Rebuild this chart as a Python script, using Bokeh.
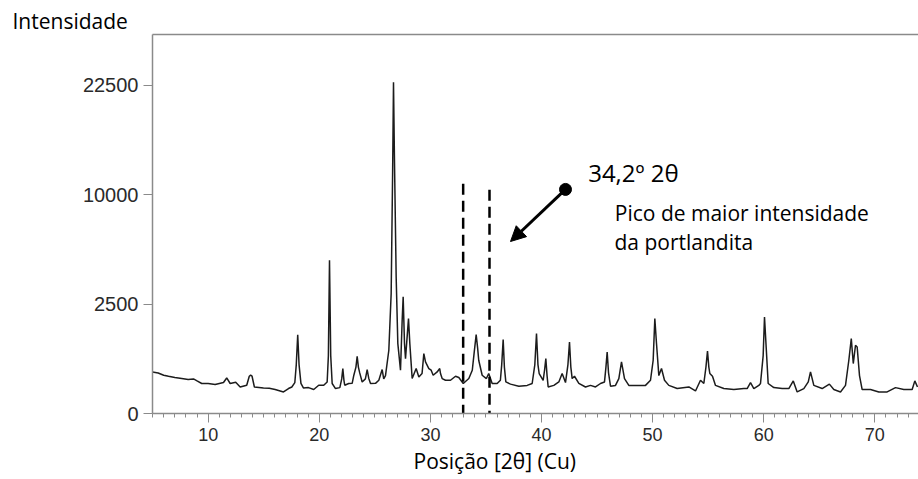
import numpy as np
from bokeh.plotting import figure
from bokeh.models import (LinearAxis, SingleIntervalTicker, FixedTicker,
                          CustomJSTickFormatter, Label, Arrow, NormalHead, Title)
from bokeh.embed import file_html
from bokeh.resources import INLINE

# ---------------- data ----------------
two_theta = [4.99, 5.5, 6.0, 6.43, 7.0, 7.62, 8.2, 8.68, 9.0, 9.42, 10.0, 10.63, 11.0, 11.38, 11.67,
             11.98, 12.48, 12.88, 13.47, 13.7, 13.82, 13.95, 14.16, 14.98, 15.5, 16.03, 16.78, 17.23,
             17.53, 17.8, 17.93, 18.06, 18.18, 18.35, 18.57, 19.03, 19.5, 19.95, 20.4, 20.71, 20.82,
             20.92, 21.03, 21.16, 21.46, 21.85, 22.02, 22.12, 22.22, 22.29, 22.65, 22.96, 23.11, 23.3,
             23.41, 23.52, 23.64, 23.86, 24.15, 24.31, 24.45, 24.61, 25.06, 25.36, 25.66, 25.8, 25.96,
             26.26, 26.47, 26.6, 26.68, 26.76, 26.92, 27.07, 27.31, 27.46, 27.55, 27.67, 27.76, 28.03,
             28.15, 28.36, 28.72, 28.96, 29.25, 29.41, 29.56, 29.86, 30.07, 30.25, 30.61, 30.84, 30.91,
             31.06, 31.36, 31.81, 32.26, 32.56, 32.96, 33.46, 33.77, 33.95, 34.12, 34.25, 34.35, 34.66,
             35.04, 35.25, 35.56, 36.01, 36.3, 36.42, 36.55, 36.66, 36.79, 37.21, 37.96, 38.71, 39.16,
             39.4, 39.55, 39.68, 39.79, 40.15, 40.28, 40.39, 40.5, 40.6, 41.11, 41.56, 41.86, 42.16,
             42.38, 42.52, 42.64, 42.76, 42.97, 43.36, 43.96, 44.41, 44.86, 45.31, 45.67, 45.8, 45.91,
             46.03, 46.21, 46.66, 46.96, 47.2, 47.47, 47.86, 48.61, 49.36, 49.81, 50.05, 50.2, 50.35,
             50.56, 50.8, 51.07, 51.46, 52.21, 53.26, 53.86, 54.31, 54.61, 54.8, 54.94, 55.06, 55.15,
             55.39, 55.66, 56.41, 57.31, 58.21, 58.51, 58.81, 59.11, 59.56, 59.71, 59.95, 60.07, 60.22,
             60.4, 60.91, 61.66, 62.26, 62.66, 63.01, 63.61, 64.01, 64.21, 64.51, 65.26, 65.91, 66.31,
             66.91, 67.36, 67.66, 67.88, 68.06, 68.26, 68.41, 68.62, 68.86, 69.61, 70.36, 71.11, 71.86,
             72.61, 73.36, 73.6, 73.84]
intensity = [361, 343, 306, 290, 270, 255, 241, 250, 222, 188, 188, 175, 188, 200, 264,
             188, 204, 147, 167, 290, 306, 290, 147, 137, 133, 120, 97, 130,
             147, 200, 500, 1290, 500, 190, 137, 140, 120, 167, 167, 208, 700,
             4900, 700, 188, 130, 140, 250, 422, 230, 167, 188, 190, 306, 450,
             685, 450, 344, 208, 250, 404, 260, 188, 190, 231, 404, 250, 300,
             835, 3000, 12000, 22900, 14000, 3890, 1020, 391, 1814, 2850, 1020, 630, 1880,
             1020, 255, 422, 279, 334, 750, 555, 422, 391, 306, 361, 422, 334,
             255, 231, 231, 290, 270, 188, 255, 391, 800, 1300, 900, 592, 306,
             255, 334, 188, 188, 231, 500, 1140, 450, 208, 180, 155, 165, 188,
             500, 1334, 500, 334, 230, 400, 630, 300, 147, 165, 208, 334, 200,
             500, 1069, 450, 255, 290, 190, 147, 165, 147, 188, 208, 450, 791,
             350, 155, 165, 255, 555, 255, 165, 165, 165, 231, 592, 1882, 1022,
             300, 422, 231, 165, 130, 147, 106, 231, 188, 450, 817, 450, 334,
             290, 165, 130, 120, 130, 130, 200, 130, 165, 188, 700, 1946, 925,
             188, 140, 130, 130, 222, 97, 130, 208, 361, 165, 130, 180, 120,
             97, 165, 592, 1172, 521, 973, 925, 300, 120, 120, 97, 97, 140,
             120, 120, 222, 147]

y_tick_values = [0, 2500, 10000, 22500]          # labelled intensities (square-root axis)
marker_positions = [32.95, 35.32]                 # dashed lines, degrees 2θ
marker_tops = [11025, 10445]                      # dashed line tops, intensity

x_label = "Posição [2θ] (Cu)"
y_label = "Intensidade"
peak_title = "34,2º 2θ"
peak_text_1 = "Pico de maior intensidade"
peak_text_2 = "da portlandita"

# ---------------- figure ----------------
y_plot = np.sqrt(np.array(intensity, dtype=float))

p = figure(width=918, height=479, output_backend="svg", toolbar_location=None,
           x_range=(4.99, 73.93), y_range=(0, 173.2),
           min_border_left=152, min_border_right=0, min_border_top=34, min_border_bottom=66)
p.outline_line_color = None
p.grid.visible = False
p.background_fill_color = "white"
p.border_fill_color = "white"

axis_col = "#8a8a8a"
label_col = "#2a2a2a"
font = "Open Sans"

xa = p.xaxis[0]
xa.ticker = SingleIntervalTicker(interval=10, num_minor_ticks=10)
xa.axis_line_color = axis_col
xa.axis_line_width = 1.5
xa.major_tick_line_color = axis_col
xa.minor_tick_line_color = axis_col
xa.major_tick_out = 9
xa.major_tick_in = 0
xa.minor_tick_out = 4
xa.minor_tick_in = 0
xa.major_label_text_font = "Liberation Sans"
xa.major_label_text_font_size = "18px"
xa.major_label_text_color = label_col
xa.major_label_standoff = 5

ya = p.yaxis[0]
ya.ticker = FixedTicker(ticks=[float(np.sqrt(v)) for v in y_tick_values])
ya.formatter = CustomJSTickFormatter(code="return Math.round(tick*tick).toString();")
ya.axis_line_color = axis_col
ya.axis_line_width = 1.5
ya.major_tick_line_color = axis_col
ya.minor_tick_line_color = None
ya.major_tick_out = 9
ya.major_tick_in = 0
ya.major_label_text_font = "Liberation Sans"
ya.major_label_text_font_size = "20px"
ya.major_label_text_color = label_col
ya.major_label_standoff = 5

top = LinearAxis(ticker=FixedTicker(ticks=[]), axis_line_color=axis_col, axis_line_width=1.5,
                 major_tick_line_color=None, minor_tick_line_color=None)
p.add_layout(top, "above")

# axis titles placed like the reference
p.add_layout(Title(text=y_label, align="left", offset=-140, standoff=0,
                   text_font=font, text_font_size="21px", text_font_style="normal",
                   text_color="black"), "above")
p.add_layout(Title(text=x_label, align="left", offset=261, standoff=3,
                   text_font=font, text_font_size="21px", text_font_style="normal",
                   text_color="black"), "below")

# trace
p.line(two_theta, y_plot, line_color="#1c1c1c", line_width=1.5)

# dashed marker lines
tops = [float(np.sqrt(v)) for v in marker_tops]
p.segment(x0=marker_positions, y0=tops, x1=marker_positions, y1=[0, 0],
          line_color="black", line_width=2.5, line_dash="11 6")

# arrow with dot
p.add_layout(Arrow(end=NormalHead(size=15, fill_color="black", line_color="black"),
                   x_start=42.16, y_start=102.4, x_end=37.21, y_end=78.6,
                   line_color="black", line_width=3))
p.scatter([42.16], [102.4], size=12, color="black")

p.add_layout(Label(x=44.2, y=110.3, text=peak_title, text_font=font,
                   text_font_size="24px", text_color="black", text_baseline="alphabetic"))
p.add_layout(Label(x=46.6, y=91.7, text=peak_text_1, text_font=font,
                   text_font_size="21px", text_color="black", text_baseline="alphabetic"))
p.add_layout(Label(x=46.57, y=78.2, text=peak_text_2, text_font=font,
                   text_font_size="21px", text_color="black", text_baseline="alphabetic"))

open("out.html", "w").write(file_html(p, INLINE))
